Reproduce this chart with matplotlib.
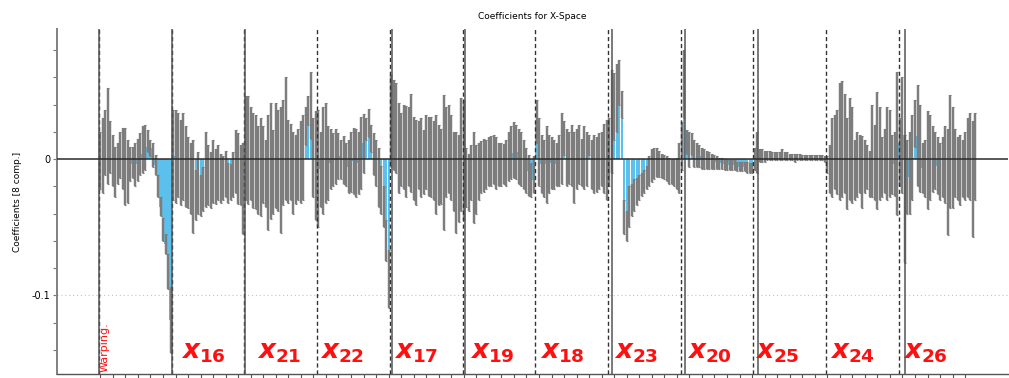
import numpy as np
import matplotlib
matplotlib.use('Agg')
import matplotlib.pyplot as plt
from matplotlib.ticker import FixedLocator, FixedFormatter
import matplotlib.transforms as mtransforms

plt.rcParams['mathtext.fontset'] = 'custom'
plt.rcParams['mathtext.it'] = 'DejaVu Sans:italic:bold'
plt.rcParams['mathtext.rm'] = 'DejaVu Sans:bold'
plt.rcParams['mathtext.bf'] = 'DejaVu Sans:bold'

# ---------------- data (coefficients and their uncertainty, units of 1e-3) -------------
segment_names = ['Warping.', r'$x_{16}$', r'$x_{21}$', r'$x_{22}$', r'$x_{17}$', r'$x_{19}$',
                 r'$x_{18}$', r'$x_{23}$', r'$x_{20}$', r'$x_{25}$', r'$x_{24}$', r'$x_{26}$']

coef_warping = [-1, 2.5, 12, 17, 9, -1, -9.5, -3, 3, 0.5, -5.5, -9, -3.5, -2.5, -4, -0.5, 3.5, 7, 8.5,
                13, 8, 3, -4.5, -20, -35, -51.5, -62.5, -82.5, -118]
err_warping = [21, 27.5, 24, 35, 19, 19, 18.5, 15, 17, 22.5, 28.5, 23, 12.5, 11.5, 16, 15.5, 15.5, 17, 16.5,
               8, 6, 9, 7.5, 8, 7, 8.5, 7.5, 12.5, 24]

coef_x16 = [3, 2, 3, -2.5, 2, -5.5, -10, -14, -20, -26.5, -17.5, -27, -22, -7.5, -12, -15.5, -9, -13, -10,
            -14, -14, -11, -17.5, -17, -11.5, -2, -7, -12, -21.5]
err_x16 = [33, 34, 31, 31.5, 32, 29.5, 26, 26, 34, 18.5, 22.5, 15, 16, 27.5, 22, 20.5, 23, 20, 20,
           18, 16, 17, 14.5, 13, 16.5, 23, 26, 22, 33.5]

coef_x21 = [8, 6.5, 4, -1, -2.5, -8, -6, -4, -10.5, -10, -1.5, -9.5, 2.5, -1, -8, 4.5, 15, -1.5, -2,
            -10, -7.5, -4, -2, 1, 24, 35.5, 39.5, 1, -5]
err_x21 = [38, 39.5, 34, 35, 34.5, 32, 36, 28, 24.5, 42, 42.5, 30.5, 38.5, 37, 46, 38.5, 45, 30.5, 28,
           30, 25.5, 26, 30, 31, 14, 10.5, 24.5, 29, 40]

coef_x22 = [-7, -7.5, -1, 4.5, -3, 0, -0.5, 2, 2, -0.5, -0.5, -4, -5.5, -2, -1.5, -3, -3, 4.5, 11.5,
            22, 26.5, 15, 3.5, -3, -13.5, -22.5, -35, -60, -88]
err_x22 = [43, 27.5, 39, 36.5, 27, 22, 19.5, 20, 17, 14.5, 17.5, 16, 19.5, 22, 24.5, 25, 23, 26.5, 21.5,
           8, 10.5, 10, 15.5, 17, 21.5, 17.5, 15, 15, 21]

coef_x17 = [28, 25, 23, 8, 7, 9, 5.5, 9, 12, 0.5, -2.5, 3, 1, -2.5, 5, 2, 1.5, -1, -4,
            -4.5, -5.5, -2.5, 5, 7.5, 1, -9, -17, -14, 3.5]
err_x17 = [34, 33, 33, 33, 27, 31, 33.5, 29, 36, 30.5, 31.5, 25, 29, 23.5, 27, 29, 29.5, 29, 36,
           29.5, 27.5, 49.5, 33, 32.5, 31, 29, 37, 32, 41.5]

coef_x19 = [-1, -13.5, -17, -10, -13.5, -15, -9, -6, -4.5, -4, -2, -1.5, 0, -3, -4, -4, -3.5, -3, 2,
            4.5, 6.5, 5, 2, 0, -4, -8.5, -12, -15.5, -11.5]
err_x19 = [44, 21.5, 21, 20, 33.5, 25, 21, 19, 19.5, 18, 18, 18.5, 18, 19, 16, 16, 14.5, 17, 18,
           19.5, 20.5, 20, 20, 20, 18, 16.5, 15, 12.5, 13.5]

coef_x18 = [27.5, 5, -3.5, -7, -4, -3.5, -3, -4, -4, -1, 8, 15.5, 1, 1, 2.5, -6, 0, 3.5, -2.5,
            1, 0, 10.5, -4, -3.5, -4, -1.5, 0, 0.5, -0.5]
err_x18 = [15.5, 25, 21.5, 21, 28, 21.5, 19, 18, 16, 19, 26, 12.5, 21, 19, 22.5, 26, 22, 21.5, 17.5,
           23, 20, 7.5, 18, 21.5, 20, 20.5, 20, 25.5, 29.5]

coef_x23 = [5, 27.5, 38.5, 45, 56.5, 40, -42.5, -49, -35, -30, -26.5, -24, -21, -18.5, -16.5, -13.5, -9, -5,
            -3.5, -2.5, -3.5, -5, -6, -7, -8.5, -9, -10, -10.5, -6.5]
err_x23 = [25, 37.5, 24.5, 25, 16.5, 10, 12.5, 11, 15, 12, 11.5, 10, 9, 8.5, 8.5, 8.5, 11, 12,
           11.5, 10.5, 9.5, 9, 9, 9, 9.5, 9, 10, 11.5, 18.5]

coef_x20 = [9.5, 55, 12.5, 7, 11, 4, 3, 2, 0.5, 0, -0.5, -1, -1.5, -2, -2.5, -3, -3, -4, -4.5,
            -4.5, -4.5, -4.5, -5.5, -5.5, -5.5, -5.5, -6, -6.5, -6.5]
err_x20 = [17.5, 25, 8.5, 13, 8, 10, 9, 8, 7.5, 7, 6.5, 6, 5.5, 5, 4.5, 4, 4, 4, 3.5,
           3.5, 3.5, 3.5, 3.5, 3.5, 3.5, 3.5, 4, 3.5, 3.5]

coef_x25 = [0, 5, 2.5, 2.5, 2, 2.5, 2.5, 2, 2, 2, 2, 3, 2, 2, 1.5, 1.5, 1, 1.5, 1.5,
            1, 1, 1, 1, 1, 1, 1, 1, 1, 0]
err_x25 = [8, 15, 4.5, 4.5, 4, 3.5, 3.5, 3, 3, 3, 3, 4, 3, 3, 2.5, 2.5, 3, 2.5, 2.5,
           2, 2, 2, 2, 2, 2, 2, 2, 2, 2]

coef_x24 = [-4, -7.5, 1, 5, 5, 13, 14.5, 11.5, -3.5, 7.5, 3, -8, -4, -3.5, -9.5, -5.5, -6, -11, 6,
            -2.5, 6, 4, -6, -1.5, 4, 4, -4, -3.5, 11.5]
err_x24 = [6, 17.5, 29, 27, 31, 43, 42.5, 36.5, 33.5, 37.5, 35, 22, 24, 21.5, 26.5, 19.5, 16, 17, 34,
           27.5, 43, 34, 22, 23.5, 34, 32, 22, 23.5, 52.5]

coef_x26 = [5, 17.5, -29, -13, -10, 1, 26, 17, 8, -6.5, -7, -1, 1, 0, -1, -5, -9, -6, -4,
            -17, 5.5, 1, -3, -7, -8, -7, -5, 1, 2, -14.5, 2]
err_x26 = [25, 42.5, 47, 27, 30, 31, 17, 37, 32, 18.5, 21, 36, 31, 24, 21, 21, 21, 22, 28,
           39, 41.5, 37, 25, 23, 26, 21, 25, 29, 32, 42.5, 32]

coef_segments = [coef_warping, coef_x16, coef_x21, coef_x22, coef_x17, coef_x19,
                 coef_x18, coef_x23, coef_x20, coef_x25, coef_x24, coef_x26]
err_segments = [err_warping, err_x16, err_x21, err_x22, err_x17, err_x19,
                err_x18, err_x23, err_x20, err_x25, err_x24, err_x26]

# extra (solid) marker lines, in variable-index units
solid_lines = [-0.5, 28.6, 57.7, 116.4, 145.5, 204.1, 233.2, 262.4, 321.0]
label_offsets = [1.6, 3.2, 4.5, 0.7, 1.2, 2.5, 1.4, 1.9, 2.0, 0.2, 1.1, 1.2]

y_ticks = [0.08, 0.06, 0.04, 0.02, 0.0, -0.02, -0.04, -0.06, -0.08, -0.1, -0.12, -0.14]
y_ticklabels = ['', '', '', '', '0', '', '', '', '', '-0.1', '', '']

# ---------------- build -------------
coef = np.concatenate([np.asarray(c, float) for c in coef_segments]) / 1000.0
err = np.concatenate([np.asarray(e, float) for e in err_segments]) / 1000.0
sizes = [len(c) for c in coef_segments]
starts = np.concatenate([[0], np.cumsum(sizes)[:-1]])
x = np.arange(len(coef))

fig = plt.figure(figsize=(10.09, 3.78), dpi=100)
ax = fig.add_axes([57 / 1009, 4 / 378, 951 / 1009, 345 / 378])

grey = '#7d7d7d'
blue = '#5cc0ec'
red = '#ff1010'

ax.bar(x, coef, width=0.85, color=blue, zorder=2, linewidth=0)
ax.errorbar(x, coef, yerr=err, fmt='none', ecolor=grey, elinewidth=1.75,
            capsize=1.0, capthick=0.8, zorder=3)

ax.axhline(0, color='#2a2a2a', lw=1.1, zorder=5)
ax.axhline(-0.1, color='#c4c4c4', lw=0.8, ls=(0, (1, 2.5)), zorder=1)

for s in starts:
    ax.axvline(s - 0.5, color='#333333', lw=1.0, ls=(0, (3, 2)), zorder=4)
for p in solid_lines:
    ax.axvline(p, color='#555555', lw=1.1, zorder=4)

trans = mtransforms.blended_transform_factory(ax.transData, ax.transAxes)
for k, (name, s, off) in enumerate(zip(segment_names, starts, label_offsets)):
    if k == 0:
        ax.text(s + off, 0.006, name, rotation=90, color=red, fontsize=8,
                ha='center', va='bottom', transform=trans, zorder=6)
    else:
        ax.text(s + off, 0.045, name, color=red, fontsize=19, ha='left',
                va='baseline', transform=trans, zorder=6)

ax.set_xlim(-17.3, 362.1)
ax.set_ylim(-0.1577, 0.0954)

ax.xaxis.set_major_locator(FixedLocator(np.arange(0, len(coef) - 4, 5)))
ax.tick_params(axis='x', direction='out', length=4, width=0.8, color='#555555', labelbottom=False)
ax.yaxis.set_major_locator(FixedLocator(y_ticks))
ax.yaxis.set_major_formatter(FixedFormatter(y_ticklabels))
ax.tick_params(axis='y', direction='out', length=3, width=0.8, color='#777777',
               labelsize=7, pad=2)

for sp in ['top', 'right']:
    ax.spines[sp].set_visible(False)
ax.spines['left'].set_color('#808080')
ax.spines['left'].set_linewidth(1.4)
ax.spines['bottom'].set_color('#555555')
ax.spines['bottom'].set_linewidth(1.0)

ax.set_title('Coefficients for X-Space', fontsize=6.5, pad=7)
ax.set_ylabel('Coefficients [8 comp.]', fontsize=6.5, labelpad=7)

fig.savefig('out.png', dpi=100)
